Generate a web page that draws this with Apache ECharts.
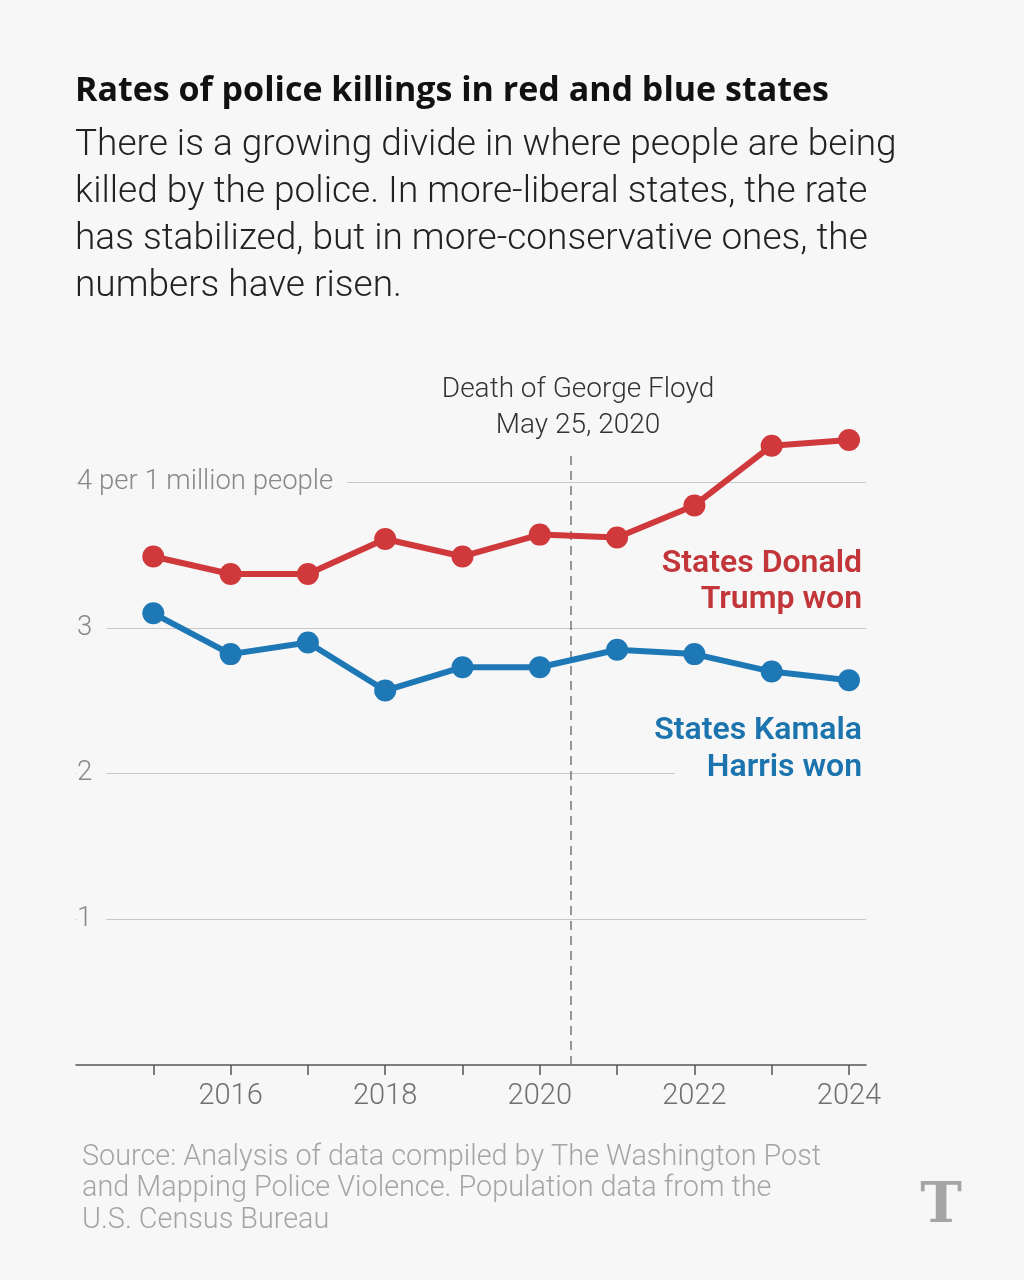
<!DOCTYPE html>
<html><head><meta charset="utf-8">
<script src="https://cdn.jsdelivr.net/npm/echarts@6/dist/echarts.min.js"></script>
<style>html,body{margin:0;background:#f7f7f7}#c{width:1024px;height:1280px}</style>
</head><body><div id="c"></div>
<script>
// ---- data ----
const years = [2015, 2016, 2017, 2018, 2019, 2020, 2021, 2022, 2023, 2024];
const trumpStates = [3.49, 3.37, 3.37, 3.61, 3.49, 3.64, 3.62, 3.84, 4.25, 4.29];
const harrisStates = [3.10, 2.82, 2.90, 2.57, 2.73, 2.73, 2.85, 2.82, 2.70, 2.64];
const xTickYears = [2015, 2016, 2017, 2018, 2019, 2020, 2021, 2022, 2023, 2024];
const xLabelYears = [2016, 2018, 2020, 2022, 2024];
const yTicks = [1, 2, 3, 4];
const floydDate = 2020.4;

const BG = '#f7f7f7';
const RED = '#cf393c';
const BLUE = '#1f78b6';
const SANS = 'Roboto, "Open Sans", sans-serif';

const chart = echarts.init(document.getElementById('c'), null, {renderer: 'canvas'});
chart.setOption({
  backgroundColor: BG,
  animation: false,
  grid: {left: 76, right: 158, top: 452, bottom: 215, containLabel: false},
  xAxis: {
    type: 'value', min: 2014, max: 2024.22,
    axisLine: {show: true, lineStyle: {color: '#555', width: 1.5}},
    axisTick: {show: true, customValues: xTickYears, length: 10, lineStyle: {color: '#555', width: 1.5}},
    axisLabel: {customValues: xLabelYears, color: '#707070', fontSize: 29, fontWeight: 300, fontFamily: SANS, margin: 17,
      formatter: v => String(v)},
    splitLine: {show: false}
  },
  yAxis: {
    type: 'value', min: 0, max: 4.207,
    axisLine: {show: false},
    axisTick: {show: false, customValues: yTicks},
    axisLabel: {customValues: yTicks, inside: true, margin: 1, showMinLabel: true, showMaxLabel: true, hideOverlap: false,
      align: 'left', verticalAlign: 'middle',
      color: '#888', fontSize: 27.5, fontWeight: 300, fontFamily: SANS,
      backgroundColor: BG, padding: [3, 14, 3, 0],
      formatter: v => v === 4 ? '4 per 1 million people' : String(v)},
    splitLine: {show: true, showMinLine: true, showMaxLine: true, lineStyle: {color: '#c8c8c8', width: 1}}
  },
  series: [
    {
      name: 'States Kamala Harris won', type: 'line', clip: false, z: 3,
      data: years.map((y, i) => [y, harrisStates[i]]),
      symbol: 'circle', symbolSize: 22,
      lineStyle: {color: BLUE, width: 6}, itemStyle: {color: BLUE},
      markLine: {
        silent: true, symbol: 'none', z: 1,
        label: {show: false},
        lineStyle: {color: '#777', width: 1.5, type: [9, 6]},
        data: [{xAxis: floydDate}]
      }
    },
    {
      name: 'States Donald Trump won', type: 'line', clip: false, z: 4,
      data: years.map((y, i) => [y, trumpStates[i]]),
      symbol: 'circle', symbolSize: 22,
      lineStyle: {color: RED, width: 6}, itemStyle: {color: RED}
    }
  ],
  graphic: [
    {type: 'text', x: 75, y: 91, style: {text: 'Rates of police killings in red and blue states',
      fontSize: 34, fontWeight: 'bold', fontFamily: '"Open Sans", Roboto, sans-serif', fill: '#111', verticalAlign: 'middle'}},
    {type: 'text', x: 75, y: 122, style: {text: 'There is a growing divide in where people are being\nkilled by the police. In more-liberal states, the rate\nhas stabilized, but in more-conservative ones, the\nnumbers have risen.',
      fontSize: 37, fontWeight: 300, fontFamily: SANS, fill: '#222', lineHeight: 47, verticalAlign: 'top'}},
    {type: 'text', x: 578, y: 372, style: {text: 'Death of George Floyd\nMay 25, 2020', align: 'center', verticalAlign: 'top',
      fontSize: 28, fontWeight: 300, fontFamily: SANS, fill: '#333', lineHeight: 36}},
    {type: 'text', x: 862, y: 546, z: 50, style: {text: 'States Donald\nTrump won', align: 'right', verticalAlign: 'top',
      fontSize: 32, fontWeight: 600, fontFamily: SANS, fill: '#c2363a', lineHeight: 36}},
    {type: 'rect', z: 40, shape: {x: 675, y: 766, width: 192, height: 14}, style: {fill: BG}},
    {type: 'text', x: 862, y: 712, z: 50, style: {text: 'States Kamala\nHarris won', align: 'right', verticalAlign: 'top',
      fontSize: 32, fontWeight: 600, fontFamily: SANS, fill: '#1b74ad', lineHeight: 37}},
    {type: 'text', x: 82, y: 1142, style: {text: 'Source: Analysis of data compiled by The Washington Post\nand Mapping Police Violence. Population data from the\nU.S. Census Bureau',
      fontSize: 28.8, fontWeight: 300, fontFamily: SANS, fill: '#a5a5a5', lineHeight: 31.5, verticalAlign: 'top'}},
    {type: 'text', x: 941, y: 1207, style: {text: 'T', align: 'center', verticalAlign: 'middle',
      fontSize: 56, fontWeight: 'bold', fontFamily: '"DejaVu Serif", serif', fill: '#a5a5a5'}}
  ]
});
</script></body></html>
